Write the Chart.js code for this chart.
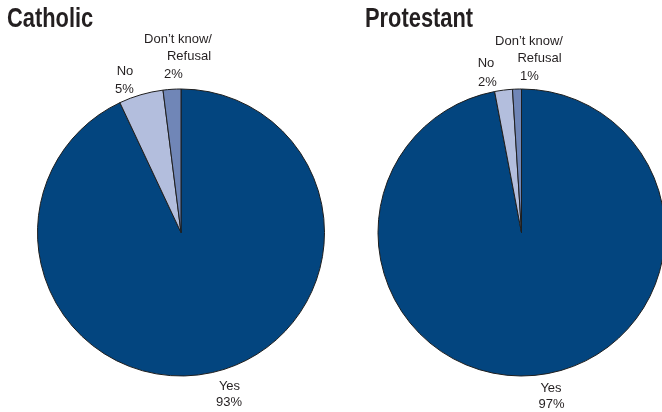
<!DOCTYPE html>
<html>
<head>
<meta charset="utf-8">
<script src="https://cdn.jsdelivr.net/npm/chart.js@4/dist/chart.umd.min.js"></script>
<style>
  html, body { margin: 0; padding: 0; background: #fff; overflow: hidden; }
  body { width: 662px; height: 412px; position: relative; }
  .panel { position: absolute; top: 0; height: 412px; }
  .title {
    position: absolute; top: 5px; margin: 0;
    font: bold 27px "Liberation Sans", Arial, sans-serif; line-height: 27px;
    color: #231f20; transform: scaleX(0.81); transform-origin: left top;
    white-space: nowrap; z-index: 2;
  }
</style>
</head>
<body>
<div class="title" style="left:7px">Catholic</div>
<div class="title" style="left:365px">Protestant</div>
<div class="panel" style="left:0; width:331px"><canvas id="pieCatholic"></canvas></div>
<div class="panel" style="left:331px; width:340px"><canvas id="pieProtestant"></canvas></div>
<script>
const answers = ['Yes', 'No', 'Don\u2019t know/Refusal'];
const catholicShares = [93, 5, 2];
const protestantShares = [97, 2, 1];

const sliceColours = ['#03457f', '#b3bedd', '#7086b7'];

// text lines for each slice label (value line comes from the shares)
const labelLines = [['Yes'], ['No'], ['Don\u2019t know/', 'Refusal']];

// per-line label offsets from the pie centre, one set per chart
const catholicLabelPos = [
  [[48.5, 157.5], [48, 173.5]],
  [[-56, -157.5], [-56.5, -139.5]],
  [[-3, -189.5], [8, -172.5], [-7.5, -154.5]]
];
const protestantLabelPos = [
  [[29.5, 159.5], [30, 175.5]],
  [[-35.5, -165.5], [-34, -146.5]],
  [[7.5, -187.5], [18, -170.5], [8, -152.5]]
];

const sliceLabels = {
  id: 'sliceLabels',
  afterDraw(chart, args, opts) {
    const ctx = chart.ctx;
    const arc = chart.getDatasetMeta(0).data[0];
    const values = chart.data.datasets[0].data;
    ctx.save();
    ctx.font = '13px "Liberation Sans", Arial, sans-serif';
    ctx.fillStyle = '#231f20';
    ctx.textAlign = 'center';
    ctx.textBaseline = 'alphabetic';
    labelLines.forEach((lines, i) => {
      const texts = lines.concat([values[i] + '%']);
      texts.forEach((t, j) => {
        const p = opts.positions[i][j];
        ctx.fillText(t, arc.x + p[0], arc.y + p[1]);
      });
    });
    ctx.restore();
  }
};

function makePie(id, shares, padding, positions) {
  return new Chart(document.getElementById(id), {
    type: 'pie',
    data: {
      labels: answers,
      datasets: [{
        data: shares,
        backgroundColor: sliceColours,
        borderColor: '#1e1e1e',
        borderWidth: 1
      }]
    },
    options: {
      responsive: true,
      maintainAspectRatio: false,
      animation: false,
      layout: { padding: padding },
      plugins: {
        legend: { display: false },
        tooltip: { enabled: false },
        sliceLabels: { positions: positions }
      }
    },
    plugins: [sliceLabels]
  });
}

makePie('pieCatholic', catholicShares, { left: 37, right: 6, top: 88.5, bottom: 35.5 }, catholicLabelPos);
makePie('pieProtestant', protestantShares, { left: 46.5, right: 5.5, top: 88.5, bottom: 35.5 }, protestantLabelPos);
</script>
</body>
</html>
